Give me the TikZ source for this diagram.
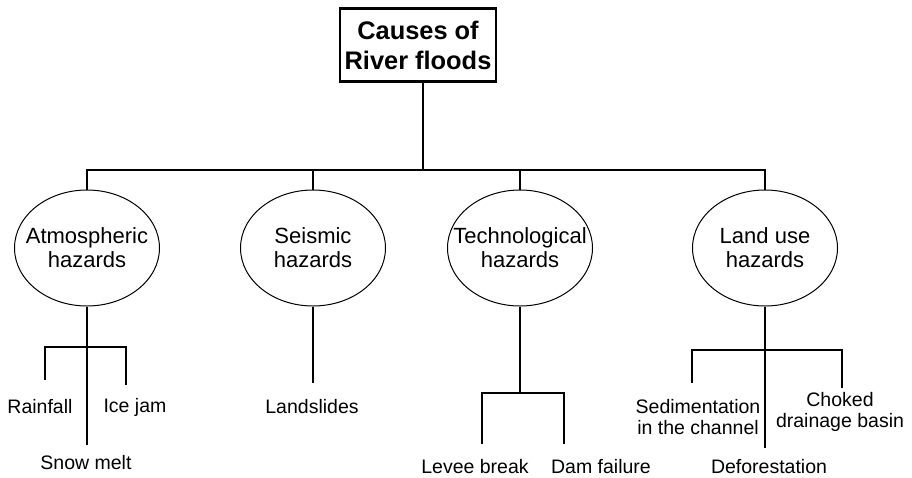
\documentclass[tikz,border=0pt]{standalone}
\usepackage{fontspec}
\setmainfont{Liberation Sans}
\usetikzlibrary{shapes.geometric}
\begin{document}
\begin{tikzpicture}[x=1pt,y=-1pt,
  conn/.style={draw=black,line width=1.3pt},
  hazard/.style={ellipse,draw=black,line width=1pt,minimum width=145pt,minimum height=116pt,inner sep=0pt},
  hztext/.style={inner sep=0pt,align=center,font=\fontsize{22}{24}\selectfont},
  leaf/.style={inner sep=0pt,align=center,font=\fontsize{19.5}{21.5}\selectfont},
  titlebox/.style={draw=black,line width=2.5pt,minimum width=156pt,minimum height=73pt,inner sep=0pt,align=center,font=\fontsize{25.4}{30}\selectfont\bfseries}]
\useasboundingbox (0,0) rectangle (912,477);
% title
\node[titlebox] (title) at (418,45) {Causes of\\River floods};
% hazards
\node[hazard] (atm) at (87,248) {};
\node[hztext] (atmt) at (atm.center) {Atmospheric\\hazards};
\node[hazard] (seis) at (313,248) {};
\node[hztext] (seist) at (seis.center) {Seismic\\hazards};
\node[hazard] (tech) at (520,248) {};
\node[hztext] (techt) at (tech.center) {Technological\\hazards};
\node[hazard] (land) at (765,248) {};
\node[hztext] (landt) at (land.center) {Land use\\hazards};
% leaves
\node[leaf] (rain) at (40,407) {Rainfall};
\node[leaf] (ice) at (135,407) {Ice jam};
\node[leaf] (snow) at (86,463) {Snow melt};
\node[leaf] (slide) at (312,407) {Landslides};
\node[leaf] (levee) at (475,467) {Levee break};
\node[leaf] (dam) at (601,467) {Dam failure};
\node[leaf] (sed) at (698,417) {Sedimentation\\in the channel};
\node[leaf] (choke) at (840,412) {Choked\\drainage basin};
\node[leaf] (defor) at (769,467) {Deforestation};
% junction coordinates
\coordinate (top) at (423,170);
\coordinate (j1) at (87,347);
\coordinate (e1a) at (45,380);
\coordinate (e1b) at (126,385);
\coordinate (e1c) at (87,445);
\coordinate (e2) at (313,383);
\coordinate (j3) at (520,393);
\coordinate (e3a) at (482,444);
\coordinate (e3b) at (564,444);
\coordinate (j4) at (765,350);
\coordinate (e4a) at (692,383);
\coordinate (e4b) at (842,388);
\coordinate (e4c) at (765,448);
% connectors
\draw[conn] (title.south -| top) -- (top);
\draw[conn] (atm.north) |- (top) -| (land.north);
\draw[conn] (seis.north) -- (seis.north |- top);
\draw[conn] (tech.north) -- (tech.north |- top);
\draw[conn] (atm.south) -- (j1) -- (e1c);
\draw[conn] (e1a) |- (j1) -| (e1b);
\draw[conn] (seis.south) -- (e2);
\draw[conn] (tech.south) -- (j3);
\draw[conn] (e3a) |- (j3) -| (e3b);
\draw[conn] (land.south) -- (j4) -- (e4c);
\draw[conn] (e4a) |- (j4) -| (e4b);
\end{tikzpicture}
\end{document}
